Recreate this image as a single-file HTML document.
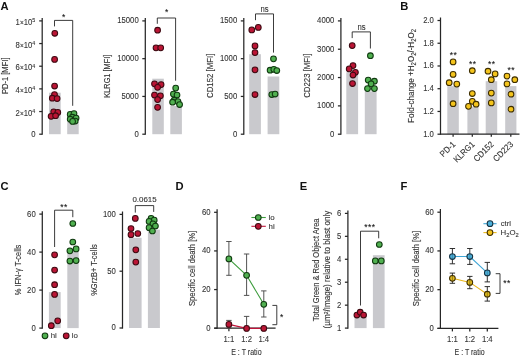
<!DOCTYPE html>
<html><head><meta charset="utf-8"><style>
html,body{margin:0;padding:0;background:#fff;}
svg{display:block;will-change:transform;}
text{font-family:"Liberation Sans", sans-serif;stroke:#333;stroke-width:0.1px;}
</style></head><body>
<svg width="520" height="358" viewBox="0 0 520 358">
<rect width="520" height="358" fill="#fff"/>
<text x="0.40" y="9.80" font-size="11.2" font-weight="bold" fill="#111" style="stroke:none">A</text>
<rect x="49.00" y="92.70" width="11.70" height="41.50" fill="#c9c9cd"/>
<rect x="67.20" y="122.00" width="11.50" height="12.20" fill="#c9c9cd"/>
<line x1="42.20" y1="17.90" x2="42.20" y2="134.82" stroke="#262626" stroke-width="1.25"/>
<line x1="39.20" y1="20.90" x2="42.20" y2="20.90" stroke="#262626" stroke-width="1.25"/>
<text transform="translate(35.30,24.90) scale(0.86,1)" font-size="9.0" text-anchor="end" fill="#333">1<tspan font-size="7.6">×</tspan>10<tspan font-size="6.2" dy="-2.5">5</tspan></text>
<line x1="39.20" y1="43.56" x2="42.20" y2="43.56" stroke="#262626" stroke-width="1.25"/>
<text transform="translate(35.30,47.56) scale(0.86,1)" font-size="9.0" text-anchor="end" fill="#333">8<tspan font-size="7.6">×</tspan>10<tspan font-size="6.2" dy="-2.5">4</tspan></text>
<line x1="39.20" y1="66.22" x2="42.20" y2="66.22" stroke="#262626" stroke-width="1.25"/>
<text transform="translate(35.30,70.22) scale(0.86,1)" font-size="9.0" text-anchor="end" fill="#333">6<tspan font-size="7.6">×</tspan>10<tspan font-size="6.2" dy="-2.5">4</tspan></text>
<line x1="39.20" y1="88.88" x2="42.20" y2="88.88" stroke="#262626" stroke-width="1.25"/>
<text transform="translate(35.30,92.88) scale(0.86,1)" font-size="9.0" text-anchor="end" fill="#333">4<tspan font-size="7.6">×</tspan>10<tspan font-size="6.2" dy="-2.5">4</tspan></text>
<line x1="39.20" y1="111.54" x2="42.20" y2="111.54" stroke="#262626" stroke-width="1.25"/>
<text transform="translate(35.30,115.54) scale(0.86,1)" font-size="9.0" text-anchor="end" fill="#333">2<tspan font-size="7.6">×</tspan>10<tspan font-size="6.2" dy="-2.5">4</tspan></text>
<line x1="39.20" y1="134.20" x2="42.20" y2="134.20" stroke="#262626" stroke-width="1.25"/>
<text transform="translate(35.60,136.65) scale(0.86,1)" font-size="9.0" text-anchor="end" fill="#333">0</text>
<text transform="translate(8.00,75.80) rotate(-90)" font-size="8.8" text-anchor="middle" fill="#333" style="stroke-width:0.12px" textLength="36.6" lengthAdjust="spacingAndGlyphs">PD-1 [MFI]</text>
<path d="M54.50,26.40 V20.40 H72.70 V105.80" fill="none" stroke="#262626" stroke-width="0.9"/>
<text x="63.80" y="20.40" font-size="8.4" text-anchor="middle" fill="#111" style="stroke:#111" letter-spacing="0.5">*</text>
<circle cx="54.80" cy="33.30" r="2.85" fill="#bb1535" stroke="#3e0a12" stroke-width="1.05"/>
<circle cx="54.60" cy="59.40" r="2.85" fill="#bb1535" stroke="#3e0a12" stroke-width="1.05"/>
<circle cx="54.60" cy="86.00" r="2.85" fill="#bb1535" stroke="#3e0a12" stroke-width="1.05"/>
<circle cx="54.50" cy="94.50" r="2.85" fill="#bb1535" stroke="#3e0a12" stroke-width="1.05"/>
<circle cx="52.30" cy="98.20" r="2.85" fill="#bb1535" stroke="#3e0a12" stroke-width="1.05"/>
<circle cx="57.10" cy="98.60" r="2.85" fill="#bb1535" stroke="#3e0a12" stroke-width="1.05"/>
<circle cx="53.70" cy="111.80" r="2.85" fill="#bb1535" stroke="#3e0a12" stroke-width="1.05"/>
<circle cx="57.80" cy="112.40" r="2.85" fill="#bb1535" stroke="#3e0a12" stroke-width="1.05"/>
<circle cx="51.10" cy="116.30" r="2.85" fill="#bb1535" stroke="#3e0a12" stroke-width="1.05"/>
<circle cx="55.60" cy="115.70" r="2.85" fill="#bb1535" stroke="#3e0a12" stroke-width="1.05"/>
<circle cx="70.20" cy="114.40" r="2.85" fill="#50b050" stroke="#103a10" stroke-width="1.05"/>
<circle cx="74.00" cy="113.60" r="2.85" fill="#50b050" stroke="#103a10" stroke-width="1.05"/>
<circle cx="72.40" cy="117.20" r="2.85" fill="#50b050" stroke="#103a10" stroke-width="1.05"/>
<circle cx="76.10" cy="118.00" r="2.85" fill="#50b050" stroke="#103a10" stroke-width="1.05"/>
<circle cx="70.20" cy="119.20" r="2.85" fill="#50b050" stroke="#103a10" stroke-width="1.05"/>
<circle cx="75.20" cy="121.00" r="2.85" fill="#50b050" stroke="#103a10" stroke-width="1.05"/>
<circle cx="72.60" cy="121.40" r="2.85" fill="#50b050" stroke="#103a10" stroke-width="1.05"/>
<rect x="152.30" y="78.70" width="11.50" height="55.50" fill="#c9c9cd"/>
<rect x="170.30" y="106.00" width="11.60" height="28.20" fill="#c9c9cd"/>
<line x1="145.30" y1="17.90" x2="145.30" y2="134.82" stroke="#262626" stroke-width="1.25"/>
<line x1="142.30" y1="20.90" x2="145.30" y2="20.90" stroke="#262626" stroke-width="1.25"/>
<text transform="translate(138.70,23.35) scale(0.86,1)" font-size="9.0" text-anchor="end" fill="#333">15000</text>
<line x1="142.30" y1="58.67" x2="145.30" y2="58.67" stroke="#262626" stroke-width="1.25"/>
<text transform="translate(138.70,61.12) scale(0.86,1)" font-size="9.0" text-anchor="end" fill="#333">10000</text>
<line x1="142.30" y1="96.43" x2="145.30" y2="96.43" stroke="#262626" stroke-width="1.25"/>
<text transform="translate(138.70,98.88) scale(0.86,1)" font-size="9.0" text-anchor="end" fill="#333">5000</text>
<line x1="142.30" y1="134.20" x2="145.30" y2="134.20" stroke="#262626" stroke-width="1.25"/>
<text transform="translate(138.70,136.65) scale(0.86,1)" font-size="9.0" text-anchor="end" fill="#333">0</text>
<text transform="translate(109.60,76.20) rotate(-90)" font-size="8.8" text-anchor="middle" fill="#333" style="stroke-width:0.12px" textLength="43.0" lengthAdjust="spacingAndGlyphs">KLRG1 [MFI]</text>
<path d="M157.30,23.80 V18.00 H175.60 V80.70" fill="none" stroke="#262626" stroke-width="0.9"/>
<text x="166.90" y="14.50" font-size="8.4" text-anchor="middle" fill="#111" style="stroke:#111" letter-spacing="0.5">*</text>
<circle cx="157.60" cy="30.20" r="2.85" fill="#bb1535" stroke="#3e0a12" stroke-width="1.05"/>
<circle cx="156.00" cy="47.80" r="2.85" fill="#bb1535" stroke="#3e0a12" stroke-width="1.05"/>
<circle cx="160.70" cy="47.80" r="2.85" fill="#bb1535" stroke="#3e0a12" stroke-width="1.05"/>
<circle cx="154.50" cy="83.80" r="2.85" fill="#bb1535" stroke="#3e0a12" stroke-width="1.05"/>
<circle cx="161.10" cy="84.60" r="2.85" fill="#bb1535" stroke="#3e0a12" stroke-width="1.05"/>
<circle cx="157.60" cy="87.30" r="2.85" fill="#bb1535" stroke="#3e0a12" stroke-width="1.05"/>
<circle cx="154.50" cy="95.00" r="2.85" fill="#bb1535" stroke="#3e0a12" stroke-width="1.05"/>
<circle cx="160.40" cy="95.80" r="2.85" fill="#bb1535" stroke="#3e0a12" stroke-width="1.05"/>
<circle cx="157.60" cy="99.60" r="2.85" fill="#bb1535" stroke="#3e0a12" stroke-width="1.05"/>
<circle cx="157.60" cy="107.30" r="2.85" fill="#bb1535" stroke="#3e0a12" stroke-width="1.05"/>
<circle cx="175.70" cy="88.10" r="2.85" fill="#50b050" stroke="#103a10" stroke-width="1.05"/>
<circle cx="173.40" cy="94.10" r="2.85" fill="#50b050" stroke="#103a10" stroke-width="1.05"/>
<circle cx="177.00" cy="95.00" r="2.85" fill="#50b050" stroke="#103a10" stroke-width="1.05"/>
<circle cx="174.20" cy="100.20" r="2.85" fill="#50b050" stroke="#103a10" stroke-width="1.05"/>
<circle cx="178.00" cy="101.50" r="2.85" fill="#50b050" stroke="#103a10" stroke-width="1.05"/>
<circle cx="172.60" cy="102.20" r="2.85" fill="#50b050" stroke="#103a10" stroke-width="1.05"/>
<circle cx="179.60" cy="104.50" r="2.85" fill="#50b050" stroke="#103a10" stroke-width="1.05"/>
<rect x="249.20" y="54.20" width="11.70" height="80.00" fill="#c9c9cd"/>
<rect x="267.60" y="76.50" width="11.70" height="57.70" fill="#c9c9cd"/>
<line x1="243.80" y1="17.90" x2="243.80" y2="134.82" stroke="#262626" stroke-width="1.25"/>
<line x1="240.80" y1="20.90" x2="243.80" y2="20.90" stroke="#262626" stroke-width="1.25"/>
<text transform="translate(237.20,23.35) scale(0.86,1)" font-size="9.0" text-anchor="end" fill="#333">1500</text>
<line x1="240.80" y1="58.67" x2="243.80" y2="58.67" stroke="#262626" stroke-width="1.25"/>
<text transform="translate(237.20,61.12) scale(0.86,1)" font-size="9.0" text-anchor="end" fill="#333">1000</text>
<line x1="240.80" y1="96.43" x2="243.80" y2="96.43" stroke="#262626" stroke-width="1.25"/>
<text transform="translate(237.20,98.88) scale(0.86,1)" font-size="9.0" text-anchor="end" fill="#333">500</text>
<line x1="240.80" y1="134.20" x2="243.80" y2="134.20" stroke="#262626" stroke-width="1.25"/>
<text transform="translate(237.20,136.65) scale(0.86,1)" font-size="9.0" text-anchor="end" fill="#333">0</text>
<text transform="translate(213.30,75.80) rotate(-90)" font-size="8.8" text-anchor="middle" fill="#333" style="stroke-width:0.12px" textLength="44.3" lengthAdjust="spacingAndGlyphs">CD152 [MFI]</text>
<path d="M255.50,20.20 V13.90 H273.50 V52.60" fill="none" stroke="#262626" stroke-width="0.9"/>
<text transform="translate(264.50,11.60) scale(0.86,1)" font-size="9.0" text-anchor="middle" fill="#333">ns</text>
<circle cx="251.80" cy="29.90" r="2.85" fill="#bb1535" stroke="#3e0a12" stroke-width="1.05"/>
<circle cx="258.30" cy="27.40" r="2.85" fill="#bb1535" stroke="#3e0a12" stroke-width="1.05"/>
<circle cx="255.00" cy="45.90" r="2.85" fill="#bb1535" stroke="#3e0a12" stroke-width="1.05"/>
<circle cx="255.00" cy="52.60" r="2.85" fill="#bb1535" stroke="#3e0a12" stroke-width="1.05"/>
<circle cx="255.00" cy="69.80" r="2.85" fill="#bb1535" stroke="#3e0a12" stroke-width="1.05"/>
<circle cx="255.00" cy="94.50" r="2.85" fill="#bb1535" stroke="#3e0a12" stroke-width="1.05"/>
<circle cx="273.50" cy="58.80" r="2.85" fill="#50b050" stroke="#103a10" stroke-width="1.05"/>
<circle cx="270.10" cy="70.20" r="2.85" fill="#50b050" stroke="#103a10" stroke-width="1.05"/>
<circle cx="273.80" cy="69.30" r="2.85" fill="#50b050" stroke="#103a10" stroke-width="1.05"/>
<circle cx="276.80" cy="70.50" r="2.85" fill="#50b050" stroke="#103a10" stroke-width="1.05"/>
<circle cx="271.80" cy="94.50" r="2.85" fill="#50b050" stroke="#103a10" stroke-width="1.05"/>
<circle cx="275.10" cy="94.00" r="2.85" fill="#50b050" stroke="#103a10" stroke-width="1.05"/>
<rect x="346.30" y="72.30" width="11.80" height="61.90" fill="#c9c9cd"/>
<rect x="364.80" y="91.30" width="11.80" height="42.90" fill="#c9c9cd"/>
<line x1="340.90" y1="17.90" x2="340.90" y2="134.82" stroke="#262626" stroke-width="1.25"/>
<line x1="337.90" y1="20.90" x2="340.90" y2="20.90" stroke="#262626" stroke-width="1.25"/>
<text transform="translate(334.30,23.35) scale(0.86,1)" font-size="9.0" text-anchor="end" fill="#333">4000</text>
<line x1="337.90" y1="49.22" x2="340.90" y2="49.22" stroke="#262626" stroke-width="1.25"/>
<text transform="translate(334.30,51.67) scale(0.86,1)" font-size="9.0" text-anchor="end" fill="#333">3000</text>
<line x1="337.90" y1="77.55" x2="340.90" y2="77.55" stroke="#262626" stroke-width="1.25"/>
<text transform="translate(334.30,80.00) scale(0.86,1)" font-size="9.0" text-anchor="end" fill="#333">2000</text>
<line x1="337.90" y1="105.88" x2="340.90" y2="105.88" stroke="#262626" stroke-width="1.25"/>
<text transform="translate(334.30,108.33) scale(0.86,1)" font-size="9.0" text-anchor="end" fill="#333">1000</text>
<line x1="337.90" y1="134.20" x2="340.90" y2="134.20" stroke="#262626" stroke-width="1.25"/>
<text transform="translate(334.30,136.65) scale(0.86,1)" font-size="9.0" text-anchor="end" fill="#333">0</text>
<text transform="translate(310.20,75.70) rotate(-90)" font-size="8.8" text-anchor="middle" fill="#333" style="stroke-width:0.12px" textLength="44.3" lengthAdjust="spacingAndGlyphs">CD223 [MFI]</text>
<path d="M352.20,38.10 V31.90 H370.40 V48.50" fill="none" stroke="#262626" stroke-width="0.9"/>
<text transform="translate(361.60,29.80) scale(0.86,1)" font-size="9.0" text-anchor="middle" fill="#333">ns</text>
<circle cx="352.20" cy="45.60" r="2.85" fill="#bb1535" stroke="#3e0a12" stroke-width="1.05"/>
<circle cx="353.00" cy="65.60" r="2.85" fill="#bb1535" stroke="#3e0a12" stroke-width="1.05"/>
<circle cx="349.20" cy="68.90" r="2.85" fill="#bb1535" stroke="#3e0a12" stroke-width="1.05"/>
<circle cx="355.40" cy="72.30" r="2.85" fill="#bb1535" stroke="#3e0a12" stroke-width="1.05"/>
<circle cx="353.00" cy="75.00" r="2.85" fill="#bb1535" stroke="#3e0a12" stroke-width="1.05"/>
<circle cx="352.50" cy="83.50" r="2.85" fill="#bb1535" stroke="#3e0a12" stroke-width="1.05"/>
<circle cx="370.40" cy="55.70" r="2.85" fill="#50b050" stroke="#103a10" stroke-width="1.05"/>
<circle cx="368.20" cy="80.10" r="2.85" fill="#50b050" stroke="#103a10" stroke-width="1.05"/>
<circle cx="374.40" cy="81.20" r="2.85" fill="#50b050" stroke="#103a10" stroke-width="1.05"/>
<circle cx="371.10" cy="83.90" r="2.85" fill="#50b050" stroke="#103a10" stroke-width="1.05"/>
<circle cx="367.50" cy="88.60" r="2.85" fill="#50b050" stroke="#103a10" stroke-width="1.05"/>
<circle cx="374.40" cy="88.60" r="2.85" fill="#50b050" stroke="#103a10" stroke-width="1.05"/>
<text x="400.20" y="9.80" font-size="11.2" font-weight="bold" fill="#111" style="stroke:none">B</text>
<rect x="447.30" y="86.10" width="11.50" height="48.10" fill="#c9c9cd"/>
<rect x="467.40" y="106.60" width="11.20" height="27.60" fill="#c9c9cd"/>
<rect x="485.70" y="81.20" width="11.50" height="53.00" fill="#c9c9cd"/>
<rect x="505.20" y="86.10" width="11.20" height="48.10" fill="#c9c9cd"/>
<line x1="440.50" y1="17.50" x2="440.50" y2="134.82" stroke="#262626" stroke-width="1.25"/>
<line x1="437.50" y1="20.50" x2="440.50" y2="20.50" stroke="#262626" stroke-width="1.25"/>
<text transform="translate(433.90,22.95) scale(0.86,1)" font-size="9.0" text-anchor="end" fill="#333">2.0</text>
<line x1="437.50" y1="43.24" x2="440.50" y2="43.24" stroke="#262626" stroke-width="1.25"/>
<text transform="translate(433.90,45.69) scale(0.86,1)" font-size="9.0" text-anchor="end" fill="#333">1.8</text>
<line x1="437.50" y1="65.98" x2="440.50" y2="65.98" stroke="#262626" stroke-width="1.25"/>
<text transform="translate(433.90,68.43) scale(0.86,1)" font-size="9.0" text-anchor="end" fill="#333">1.6</text>
<line x1="437.50" y1="88.72" x2="440.50" y2="88.72" stroke="#262626" stroke-width="1.25"/>
<text transform="translate(433.90,91.17) scale(0.86,1)" font-size="9.0" text-anchor="end" fill="#333">1.4</text>
<line x1="437.50" y1="111.46" x2="440.50" y2="111.46" stroke="#262626" stroke-width="1.25"/>
<text transform="translate(433.90,113.91) scale(0.86,1)" font-size="9.0" text-anchor="end" fill="#333">1.2</text>
<line x1="437.50" y1="134.20" x2="440.50" y2="134.20" stroke="#262626" stroke-width="1.25"/>
<text transform="translate(433.90,136.65) scale(0.86,1)" font-size="9.0" text-anchor="end" fill="#333">1.0</text>
<line x1="440.50" y1="134.20" x2="519.50" y2="134.20" stroke="#262626" stroke-width="1.25"/>
<line x1="453.10" y1="134.20" x2="453.10" y2="136.80" stroke="#262626" stroke-width="1.25"/>
<line x1="472.30" y1="134.20" x2="472.30" y2="136.80" stroke="#262626" stroke-width="1.25"/>
<line x1="491.30" y1="134.20" x2="491.30" y2="136.80" stroke="#262626" stroke-width="1.25"/>
<line x1="510.80" y1="134.20" x2="510.80" y2="136.80" stroke="#262626" stroke-width="1.25"/>
<text transform="translate(414.3,76.0) rotate(-90)" font-size="8.8" text-anchor="middle" fill="#333" style="stroke-width:0.12px" textLength="94" lengthAdjust="spacingAndGlyphs">Fold-change +H<tspan font-size="6.4" dy="2.0">2</tspan><tspan dy="-2.0">O</tspan><tspan font-size="6.4" dy="2.0">2</tspan><tspan dy="-2.0">/-H</tspan><tspan font-size="6.4" dy="2.0">2</tspan><tspan dy="-2.0">O</tspan><tspan font-size="6.4" dy="2.0">2</tspan></text>
<text transform="translate(456.10,144.80) rotate(-45) scale(0.92,1)" font-size="8.6" text-anchor="end" fill="#333">PD-1</text>
<text transform="translate(475.30,144.80) rotate(-45) scale(0.92,1)" font-size="8.6" text-anchor="end" fill="#333">KLRG1</text>
<text transform="translate(494.30,144.80) rotate(-45) scale(0.92,1)" font-size="8.6" text-anchor="end" fill="#333">CD152</text>
<text transform="translate(513.80,144.80) rotate(-45) scale(0.92,1)" font-size="8.6" text-anchor="end" fill="#333">CD223</text>
<text x="453.40" y="58.10" font-size="8.4" text-anchor="middle" fill="#111" style="stroke:#111" letter-spacing="0.5">**</text>
<text x="472.80" y="66.50" font-size="8.4" text-anchor="middle" fill="#111" style="stroke:#111" letter-spacing="0.5">**</text>
<text x="491.80" y="66.50" font-size="8.4" text-anchor="middle" fill="#111" style="stroke:#111" letter-spacing="0.5">**</text>
<text x="511.20" y="73.00" font-size="8.4" text-anchor="middle" fill="#111" style="stroke:#111" letter-spacing="0.5">**</text>
<circle cx="453.10" cy="61.90" r="2.85" fill="#f4c41c" stroke="#3e2e00" stroke-width="1.05"/>
<circle cx="453.10" cy="74.40" r="2.85" fill="#f4c41c" stroke="#3e2e00" stroke-width="1.05"/>
<circle cx="449.20" cy="82.70" r="2.85" fill="#f4c41c" stroke="#3e2e00" stroke-width="1.05"/>
<circle cx="456.80" cy="84.10" r="2.85" fill="#f4c41c" stroke="#3e2e00" stroke-width="1.05"/>
<circle cx="453.10" cy="103.70" r="2.85" fill="#f4c41c" stroke="#3e2e00" stroke-width="1.05"/>
<circle cx="472.30" cy="70.70" r="2.85" fill="#f4c41c" stroke="#3e2e00" stroke-width="1.05"/>
<circle cx="472.30" cy="93.50" r="2.85" fill="#f4c41c" stroke="#3e2e00" stroke-width="1.05"/>
<circle cx="472.30" cy="101.30" r="2.85" fill="#f4c41c" stroke="#3e2e00" stroke-width="1.05"/>
<circle cx="468.50" cy="106.30" r="2.85" fill="#f4c41c" stroke="#3e2e00" stroke-width="1.05"/>
<circle cx="476.10" cy="104.20" r="2.85" fill="#f4c41c" stroke="#3e2e00" stroke-width="1.05"/>
<circle cx="488.00" cy="71.20" r="2.85" fill="#f4c41c" stroke="#3e2e00" stroke-width="1.05"/>
<circle cx="495.10" cy="73.90" r="2.85" fill="#f4c41c" stroke="#3e2e00" stroke-width="1.05"/>
<circle cx="491.30" cy="79.70" r="2.85" fill="#f4c41c" stroke="#3e2e00" stroke-width="1.05"/>
<circle cx="491.30" cy="93.10" r="2.85" fill="#f4c41c" stroke="#3e2e00" stroke-width="1.05"/>
<circle cx="491.30" cy="102.90" r="2.85" fill="#f4c41c" stroke="#3e2e00" stroke-width="1.05"/>
<circle cx="507.00" cy="76.10" r="2.85" fill="#f4c41c" stroke="#3e2e00" stroke-width="1.05"/>
<circle cx="514.80" cy="79.70" r="2.85" fill="#f4c41c" stroke="#3e2e00" stroke-width="1.05"/>
<circle cx="507.00" cy="83.90" r="2.85" fill="#f4c41c" stroke="#3e2e00" stroke-width="1.05"/>
<circle cx="511.00" cy="94.20" r="2.85" fill="#f4c41c" stroke="#3e2e00" stroke-width="1.05"/>
<circle cx="511.00" cy="109.20" r="2.85" fill="#f4c41c" stroke="#3e2e00" stroke-width="1.05"/>
<text x="0.60" y="189.70" font-size="11.2" font-weight="bold" fill="#111" style="stroke:none">C</text>
<rect x="48.90" y="292.10" width="11.80" height="36.00" fill="#c9c9cd"/>
<rect x="67.30" y="251.20" width="11.40" height="76.90" fill="#c9c9cd"/>
<line x1="42.30" y1="211.20" x2="42.30" y2="328.73" stroke="#262626" stroke-width="1.25"/>
<line x1="39.30" y1="214.10" x2="42.30" y2="214.10" stroke="#262626" stroke-width="1.25"/>
<text transform="translate(35.70,216.55) scale(0.86,1)" font-size="9.0" text-anchor="end" fill="#333">60</text>
<line x1="39.30" y1="252.10" x2="42.30" y2="252.10" stroke="#262626" stroke-width="1.25"/>
<text transform="translate(35.70,254.55) scale(0.86,1)" font-size="9.0" text-anchor="end" fill="#333">40</text>
<line x1="39.30" y1="290.10" x2="42.30" y2="290.10" stroke="#262626" stroke-width="1.25"/>
<text transform="translate(35.70,292.55) scale(0.86,1)" font-size="9.0" text-anchor="end" fill="#333">20</text>
<line x1="39.30" y1="328.10" x2="42.30" y2="328.10" stroke="#262626" stroke-width="1.25"/>
<text transform="translate(35.70,330.55) scale(0.86,1)" font-size="9.0" text-anchor="end" fill="#333">0</text>
<text transform="translate(21.00,270.00) rotate(-90)" font-size="8.8" text-anchor="middle" fill="#333" style="stroke-width:0.12px" textLength="50.6" lengthAdjust="spacingAndGlyphs">% IFN-γ T-cells</text>
<path d="M54.60,247.00 V210.20 H72.80 V217.20" fill="none" stroke="#262626" stroke-width="0.9"/>
<text x="64.00" y="209.80" font-size="8.4" text-anchor="middle" fill="#111" style="stroke:#111" letter-spacing="0.5">**</text>
<circle cx="54.60" cy="254.80" r="2.85" fill="#bb1535" stroke="#3e0a12" stroke-width="1.05"/>
<circle cx="54.60" cy="270.00" r="2.85" fill="#bb1535" stroke="#3e0a12" stroke-width="1.05"/>
<circle cx="54.60" cy="284.70" r="2.85" fill="#bb1535" stroke="#3e0a12" stroke-width="1.05"/>
<circle cx="54.60" cy="294.40" r="2.85" fill="#bb1535" stroke="#3e0a12" stroke-width="1.05"/>
<circle cx="57.70" cy="320.80" r="2.85" fill="#bb1535" stroke="#3e0a12" stroke-width="1.05"/>
<circle cx="51.30" cy="325.70" r="2.85" fill="#bb1535" stroke="#3e0a12" stroke-width="1.05"/>
<circle cx="72.80" cy="223.50" r="2.85" fill="#50b050" stroke="#103a10" stroke-width="1.05"/>
<circle cx="72.80" cy="242.00" r="2.85" fill="#50b050" stroke="#103a10" stroke-width="1.05"/>
<circle cx="69.90" cy="250.80" r="2.85" fill="#50b050" stroke="#103a10" stroke-width="1.05"/>
<circle cx="76.10" cy="248.90" r="2.85" fill="#50b050" stroke="#103a10" stroke-width="1.05"/>
<circle cx="69.90" cy="261.00" r="2.85" fill="#50b050" stroke="#103a10" stroke-width="1.05"/>
<circle cx="76.10" cy="260.60" r="2.85" fill="#50b050" stroke="#103a10" stroke-width="1.05"/>
<circle cx="45.00" cy="335.80" r="2.85" fill="#50b050" stroke="#103a10" stroke-width="1.05"/>
<text transform="translate(50.70,338.20) scale(1.0,1)" font-size="7.9" text-anchor="start" fill="#3a3a3a">hi</text>
<circle cx="66.20" cy="335.80" r="2.85" fill="#bb1535" stroke="#3e0a12" stroke-width="1.05"/>
<text transform="translate(71.70,338.20) scale(1.0,1)" font-size="7.9" text-anchor="start" fill="#3a3a3a">lo</text>
<rect x="129.00" y="237.80" width="12.60" height="90.20" fill="#c9c9cd"/>
<rect x="147.90" y="229.70" width="12.00" height="98.30" fill="#c9c9cd"/>
<line x1="122.50" y1="211.50" x2="122.50" y2="328.62" stroke="#262626" stroke-width="1.25"/>
<line x1="119.50" y1="214.40" x2="122.50" y2="214.40" stroke="#262626" stroke-width="1.25"/>
<text transform="translate(115.90,216.85) scale(0.86,1)" font-size="9.0" text-anchor="end" fill="#333">100</text>
<line x1="119.50" y1="271.20" x2="122.50" y2="271.20" stroke="#262626" stroke-width="1.25"/>
<text transform="translate(115.90,273.65) scale(0.86,1)" font-size="9.0" text-anchor="end" fill="#333">50</text>
<line x1="119.50" y1="328.00" x2="122.50" y2="328.00" stroke="#262626" stroke-width="1.25"/>
<text transform="translate(115.90,330.45) scale(0.86,1)" font-size="9.0" text-anchor="end" fill="#333">0</text>
<text transform="translate(96.70,270.00) rotate(-90)" font-size="8.8" text-anchor="middle" fill="#333" style="stroke-width:0.12px" textLength="51.6" lengthAdjust="spacingAndGlyphs">%GrzB+ T-cells</text>
<path d="M135.30,212.60 V205.60 H153.70 V211.90" fill="none" stroke="#262626" stroke-width="0.9"/>
<text x="144.5" y="201.7" font-size="6.8" text-anchor="middle" fill="#333" textLength="24.2" lengthAdjust="spacingAndGlyphs">0.0615</text>
<circle cx="135.30" cy="218.40" r="2.85" fill="#bb1535" stroke="#3e0a12" stroke-width="1.05"/>
<circle cx="131.00" cy="228.50" r="2.85" fill="#bb1535" stroke="#3e0a12" stroke-width="1.05"/>
<circle cx="131.00" cy="234.70" r="2.85" fill="#bb1535" stroke="#3e0a12" stroke-width="1.05"/>
<circle cx="137.80" cy="233.50" r="2.85" fill="#bb1535" stroke="#3e0a12" stroke-width="1.05"/>
<circle cx="135.80" cy="249.80" r="2.85" fill="#bb1535" stroke="#3e0a12" stroke-width="1.05"/>
<circle cx="135.80" cy="262.10" r="2.85" fill="#bb1535" stroke="#3e0a12" stroke-width="1.05"/>
<circle cx="151.10" cy="218.40" r="2.85" fill="#50b050" stroke="#103a10" stroke-width="1.05"/>
<circle cx="154.20" cy="220.20" r="2.85" fill="#50b050" stroke="#103a10" stroke-width="1.05"/>
<circle cx="149.10" cy="221.40" r="2.85" fill="#50b050" stroke="#103a10" stroke-width="1.05"/>
<circle cx="152.90" cy="223.90" r="2.85" fill="#50b050" stroke="#103a10" stroke-width="1.05"/>
<circle cx="155.40" cy="226.00" r="2.85" fill="#50b050" stroke="#103a10" stroke-width="1.05"/>
<circle cx="149.10" cy="227.70" r="2.85" fill="#50b050" stroke="#103a10" stroke-width="1.05"/>
<circle cx="152.40" cy="231.00" r="2.85" fill="#50b050" stroke="#103a10" stroke-width="1.05"/>
<text x="175.60" y="189.70" font-size="11.2" font-weight="bold" fill="#111" style="stroke:none">D</text>
<line x1="217.10" y1="209.30" x2="217.10" y2="328.82" stroke="#262626" stroke-width="1.25"/>
<line x1="214.10" y1="212.30" x2="217.10" y2="212.30" stroke="#262626" stroke-width="1.25"/>
<text transform="translate(210.50,214.75) scale(0.86,1)" font-size="9.0" text-anchor="end" fill="#333">60</text>
<line x1="214.10" y1="250.93" x2="217.10" y2="250.93" stroke="#262626" stroke-width="1.25"/>
<text transform="translate(210.50,253.38) scale(0.86,1)" font-size="9.0" text-anchor="end" fill="#333">40</text>
<line x1="214.10" y1="289.57" x2="217.10" y2="289.57" stroke="#262626" stroke-width="1.25"/>
<text transform="translate(210.50,292.02) scale(0.86,1)" font-size="9.0" text-anchor="end" fill="#333">20</text>
<line x1="214.10" y1="328.20" x2="217.10" y2="328.20" stroke="#262626" stroke-width="1.25"/>
<text transform="translate(210.50,330.65) scale(0.86,1)" font-size="9.0" text-anchor="end" fill="#333">0</text>
<line x1="214.30" y1="328.20" x2="275.60" y2="328.20" stroke="#262626" stroke-width="1.25"/>
<line x1="228.90" y1="328.20" x2="228.90" y2="331.20" stroke="#262626" stroke-width="1.25"/>
<line x1="246.60" y1="328.20" x2="246.60" y2="331.20" stroke="#262626" stroke-width="1.25"/>
<line x1="263.80" y1="328.20" x2="263.80" y2="331.20" stroke="#262626" stroke-width="1.25"/>
<text transform="translate(195.40,268.40) rotate(-90)" font-size="8.8" text-anchor="middle" fill="#333" style="stroke-width:0.12px" textLength="75.3" lengthAdjust="spacingAndGlyphs">Specific cell death [%]</text>
<line x1="228.90" y1="241.50" x2="228.90" y2="275.30" stroke="#4a4a4a" stroke-width="0.95"/>
<line x1="226.20" y1="241.50" x2="231.60" y2="241.50" stroke="#4a4a4a" stroke-width="0.95"/>
<line x1="226.20" y1="275.30" x2="231.60" y2="275.30" stroke="#4a4a4a" stroke-width="0.95"/>
<line x1="246.60" y1="254.00" x2="246.60" y2="295.40" stroke="#4a4a4a" stroke-width="0.95"/>
<line x1="243.90" y1="254.00" x2="249.30" y2="254.00" stroke="#4a4a4a" stroke-width="0.95"/>
<line x1="243.90" y1="295.40" x2="249.30" y2="295.40" stroke="#4a4a4a" stroke-width="0.95"/>
<line x1="263.80" y1="290.90" x2="263.80" y2="317.00" stroke="#4a4a4a" stroke-width="0.95"/>
<line x1="261.10" y1="290.90" x2="266.50" y2="290.90" stroke="#4a4a4a" stroke-width="0.95"/>
<line x1="261.10" y1="317.00" x2="266.50" y2="317.00" stroke="#4a4a4a" stroke-width="0.95"/>
<line x1="228.90" y1="320.40" x2="228.90" y2="328.20" stroke="#4a4a4a" stroke-width="0.95"/>
<line x1="226.20" y1="320.40" x2="231.60" y2="320.40" stroke="#4a4a4a" stroke-width="0.95"/>
<line x1="226.20" y1="328.20" x2="231.60" y2="328.20" stroke="#4a4a4a" stroke-width="0.95"/>
<line x1="246.60" y1="316.40" x2="246.60" y2="328.20" stroke="#4a4a4a" stroke-width="0.95"/>
<line x1="243.90" y1="316.40" x2="249.30" y2="316.40" stroke="#4a4a4a" stroke-width="0.95"/>
<line x1="243.90" y1="328.20" x2="249.30" y2="328.20" stroke="#4a4a4a" stroke-width="0.95"/>
<path d="M228.90,258.90 L246.60,275.30 L263.80,304.30" fill="none" stroke="#3d9c3d" stroke-width="1.1"/>
<path d="M228.90,324.40 L246.60,328.40 L263.80,328.40" fill="none" stroke="#c0143a" stroke-width="1.1"/>
<circle cx="228.90" cy="258.90" r="2.85" fill="#50b050" stroke="#103a10" stroke-width="1.05"/>
<circle cx="246.60" cy="275.30" r="2.85" fill="#50b050" stroke="#103a10" stroke-width="1.05"/>
<circle cx="263.80" cy="304.30" r="2.85" fill="#50b050" stroke="#103a10" stroke-width="1.05"/>
<circle cx="228.90" cy="324.40" r="2.85" fill="#bb1535" stroke="#3e0a12" stroke-width="1.05"/>
<circle cx="246.60" cy="328.40" r="2.85" fill="#bb1535" stroke="#3e0a12" stroke-width="1.05"/>
<circle cx="263.80" cy="328.40" r="2.85" fill="#bb1535" stroke="#3e0a12" stroke-width="1.05"/>
<path d="M272.4,305.4 H276.8 V324.7 H272.4" fill="none" stroke="#262626" stroke-width="0.9"/>
<text x="281.80" y="320.10" font-size="8.4" text-anchor="middle" fill="#111" style="stroke:#111" letter-spacing="0.5">*</text>
<text transform="translate(228.90,341.80) scale(0.86,1)" font-size="9.0" text-anchor="middle" fill="#333">1:1</text>
<text transform="translate(246.60,341.80) scale(0.86,1)" font-size="9.0" text-anchor="middle" fill="#333">1:2</text>
<text transform="translate(263.80,341.80) scale(0.86,1)" font-size="9.0" text-anchor="middle" fill="#333">1:4</text>
<text x="246.4" y="355.2" font-size="9.2" text-anchor="middle" fill="#333" textLength="30.4" lengthAdjust="spacingAndGlyphs">E : T ratio</text>
<line x1="251.40" y1="217.50" x2="265.80" y2="217.50" stroke="#3d9c3d" stroke-width="1.1"/>
<circle cx="258.30" cy="217.50" r="2.85" fill="#50b050" stroke="#103a10" stroke-width="1.05"/>
<text transform="translate(268.60,219.80) scale(1.0,1)" font-size="7.9" text-anchor="start" fill="#333">lo</text>
<line x1="251.40" y1="226.30" x2="265.80" y2="226.30" stroke="#c0143a" stroke-width="1.1"/>
<circle cx="258.30" cy="226.30" r="2.85" fill="#bb1535" stroke="#3e0a12" stroke-width="1.05"/>
<text transform="translate(268.60,228.50) scale(1.0,1)" font-size="7.9" text-anchor="start" fill="#333">hi</text>
<text x="299.80" y="189.70" font-size="11.2" font-weight="bold" fill="#111" style="stroke:none">E</text>
<rect x="354.50" y="316.00" width="12.10" height="12.10" fill="#c9c9cd"/>
<rect x="372.90" y="255.20" width="11.70" height="72.90" fill="#c9c9cd"/>
<line x1="347.90" y1="210.60" x2="347.90" y2="328.73" stroke="#262626" stroke-width="1.25"/>
<line x1="344.90" y1="213.40" x2="347.90" y2="213.40" stroke="#262626" stroke-width="1.25"/>
<text transform="translate(341.30,215.85) scale(0.86,1)" font-size="9.0" text-anchor="end" fill="#333">6</text>
<line x1="344.90" y1="236.34" x2="347.90" y2="236.34" stroke="#262626" stroke-width="1.25"/>
<text transform="translate(341.30,238.79) scale(0.86,1)" font-size="9.0" text-anchor="end" fill="#333">5</text>
<line x1="344.90" y1="259.28" x2="347.90" y2="259.28" stroke="#262626" stroke-width="1.25"/>
<text transform="translate(341.30,261.73) scale(0.86,1)" font-size="9.0" text-anchor="end" fill="#333">4</text>
<line x1="344.90" y1="282.22" x2="347.90" y2="282.22" stroke="#262626" stroke-width="1.25"/>
<text transform="translate(341.30,284.67) scale(0.86,1)" font-size="9.0" text-anchor="end" fill="#333">3</text>
<line x1="344.90" y1="305.16" x2="347.90" y2="305.16" stroke="#262626" stroke-width="1.25"/>
<text transform="translate(341.30,307.61) scale(0.86,1)" font-size="9.0" text-anchor="end" fill="#333">2</text>
<line x1="344.90" y1="328.10" x2="347.90" y2="328.10" stroke="#262626" stroke-width="1.25"/>
<text transform="translate(341.30,330.55) scale(0.86,1)" font-size="9.0" text-anchor="end" fill="#333">1</text>
<text transform="translate(318.80,269.90) rotate(-90)" font-size="8.8" text-anchor="middle" fill="#333" style="stroke-width:0.12px" textLength="102.7" lengthAdjust="spacingAndGlyphs">Total Green &amp; Red Object Area</text>
<text transform="translate(330.4,269.6) rotate(-90)" font-size="8.8" text-anchor="middle" fill="#333" style="stroke-width:0.12px" textLength="117.6" lengthAdjust="spacingAndGlyphs">(µm<tspan font-size="5.6" dy="-2.6">2</tspan><tspan dy="2.6">/Image) relative to blast only</tspan></text>
<path d="M360.50,305.50 V231.20 H378.70 V238.30" fill="none" stroke="#262626" stroke-width="0.9"/>
<text x="369.90" y="230.40" font-size="8.4" text-anchor="middle" fill="#111" style="stroke:#111" letter-spacing="0.5">***</text>
<circle cx="356.90" cy="315.00" r="2.85" fill="#bb1535" stroke="#3e0a12" stroke-width="1.05"/>
<circle cx="360.20" cy="312.20" r="2.85" fill="#bb1535" stroke="#3e0a12" stroke-width="1.05"/>
<circle cx="363.60" cy="315.00" r="2.85" fill="#bb1535" stroke="#3e0a12" stroke-width="1.05"/>
<circle cx="379.30" cy="244.50" r="2.85" fill="#50b050" stroke="#103a10" stroke-width="1.05"/>
<circle cx="375.30" cy="260.90" r="2.85" fill="#50b050" stroke="#103a10" stroke-width="1.05"/>
<circle cx="381.30" cy="260.90" r="2.85" fill="#50b050" stroke="#103a10" stroke-width="1.05"/>
<text x="400.40" y="189.70" font-size="11.2" font-weight="bold" fill="#111" style="stroke:none">F</text>
<line x1="440.40" y1="209.00" x2="440.40" y2="329.02" stroke="#262626" stroke-width="1.25"/>
<line x1="437.40" y1="212.20" x2="440.40" y2="212.20" stroke="#262626" stroke-width="1.25"/>
<text transform="translate(433.80,214.65) scale(0.86,1)" font-size="9.0" text-anchor="end" fill="#333">60</text>
<line x1="437.40" y1="250.93" x2="440.40" y2="250.93" stroke="#262626" stroke-width="1.25"/>
<text transform="translate(433.80,253.38) scale(0.86,1)" font-size="9.0" text-anchor="end" fill="#333">40</text>
<line x1="437.40" y1="289.67" x2="440.40" y2="289.67" stroke="#262626" stroke-width="1.25"/>
<text transform="translate(433.80,292.12) scale(0.86,1)" font-size="9.0" text-anchor="end" fill="#333">20</text>
<line x1="437.40" y1="328.40" x2="440.40" y2="328.40" stroke="#262626" stroke-width="1.25"/>
<text transform="translate(433.80,330.85) scale(0.86,1)" font-size="9.0" text-anchor="end" fill="#333">0</text>
<line x1="437.50" y1="328.40" x2="498.40" y2="328.40" stroke="#262626" stroke-width="1.25"/>
<line x1="452.40" y1="328.40" x2="452.40" y2="331.40" stroke="#262626" stroke-width="1.25"/>
<line x1="469.80" y1="328.40" x2="469.80" y2="331.40" stroke="#262626" stroke-width="1.25"/>
<line x1="487.30" y1="328.40" x2="487.30" y2="331.40" stroke="#262626" stroke-width="1.25"/>
<text transform="translate(419.30,268.50) rotate(-90)" font-size="8.8" text-anchor="middle" fill="#333" style="stroke-width:0.12px" textLength="75.5" lengthAdjust="spacingAndGlyphs">Specific cell death [%]</text>
<line x1="452.40" y1="248.50" x2="452.40" y2="263.80" stroke="#262626" stroke-width="0.95"/>
<line x1="449.70" y1="248.50" x2="455.10" y2="248.50" stroke="#262626" stroke-width="0.95"/>
<line x1="449.70" y1="263.80" x2="455.10" y2="263.80" stroke="#262626" stroke-width="0.95"/>
<line x1="469.80" y1="248.50" x2="469.80" y2="264.40" stroke="#262626" stroke-width="0.95"/>
<line x1="467.10" y1="248.50" x2="472.50" y2="248.50" stroke="#262626" stroke-width="0.95"/>
<line x1="467.10" y1="264.40" x2="472.50" y2="264.40" stroke="#262626" stroke-width="0.95"/>
<line x1="487.30" y1="262.40" x2="487.30" y2="281.90" stroke="#262626" stroke-width="0.95"/>
<line x1="484.60" y1="262.40" x2="490.00" y2="262.40" stroke="#262626" stroke-width="0.95"/>
<line x1="484.60" y1="281.90" x2="490.00" y2="281.90" stroke="#262626" stroke-width="0.95"/>
<line x1="452.40" y1="273.10" x2="452.40" y2="283.30" stroke="#262626" stroke-width="0.95"/>
<line x1="449.70" y1="273.10" x2="455.10" y2="273.10" stroke="#262626" stroke-width="0.95"/>
<line x1="449.70" y1="283.30" x2="455.10" y2="283.30" stroke="#262626" stroke-width="0.95"/>
<line x1="469.80" y1="276.40" x2="469.80" y2="288.70" stroke="#262626" stroke-width="0.95"/>
<line x1="467.10" y1="276.40" x2="472.50" y2="276.40" stroke="#262626" stroke-width="0.95"/>
<line x1="467.10" y1="288.70" x2="472.50" y2="288.70" stroke="#262626" stroke-width="0.95"/>
<line x1="487.30" y1="286.60" x2="487.30" y2="301.10" stroke="#262626" stroke-width="0.95"/>
<line x1="484.60" y1="286.60" x2="490.00" y2="286.60" stroke="#262626" stroke-width="0.95"/>
<line x1="484.60" y1="301.10" x2="490.00" y2="301.10" stroke="#262626" stroke-width="0.95"/>
<path d="M452.40,256.50 L469.80,256.50 L487.30,272.90" fill="none" stroke="#3fa6d6" stroke-width="1.1"/>
<path d="M452.40,278.30 L469.80,282.40 L487.30,294.20" fill="none" stroke="#e9b820" stroke-width="1.1"/>
<circle cx="452.40" cy="256.50" r="2.85" fill="#4cb0da" stroke="#163344" stroke-width="1.05"/>
<line x1="452.40" y1="254.10" x2="452.40" y2="258.90" stroke="rgba(30,30,30,0.35)" stroke-width="0.7"/>
<circle cx="469.80" cy="256.50" r="2.85" fill="#4cb0da" stroke="#163344" stroke-width="1.05"/>
<line x1="469.80" y1="254.10" x2="469.80" y2="258.90" stroke="rgba(30,30,30,0.35)" stroke-width="0.7"/>
<circle cx="487.30" cy="272.90" r="2.85" fill="#4cb0da" stroke="#163344" stroke-width="1.05"/>
<line x1="487.30" y1="270.50" x2="487.30" y2="275.30" stroke="rgba(30,30,30,0.35)" stroke-width="0.7"/>
<circle cx="452.40" cy="278.30" r="2.85" fill="#e2bc1c" stroke="#3e2e00" stroke-width="1.05"/>
<line x1="452.40" y1="275.90" x2="452.40" y2="280.70" stroke="rgba(30,30,30,0.55)" stroke-width="0.7"/>
<circle cx="469.80" cy="282.40" r="2.85" fill="#e2bc1c" stroke="#3e2e00" stroke-width="1.05"/>
<line x1="469.80" y1="280.00" x2="469.80" y2="284.80" stroke="rgba(30,30,30,0.55)" stroke-width="0.7"/>
<circle cx="487.30" cy="294.20" r="2.85" fill="#e2bc1c" stroke="#3e2e00" stroke-width="1.05"/>
<line x1="487.30" y1="291.80" x2="487.30" y2="296.60" stroke="rgba(30,30,30,0.55)" stroke-width="0.7"/>
<path d="M495.7,273.7 H500.0 V293.4 H495.7" fill="none" stroke="#262626" stroke-width="0.9"/>
<text x="506.90" y="286.00" font-size="8.4" text-anchor="middle" fill="#111" style="stroke:#111" letter-spacing="0.5">**</text>
<text transform="translate(452.40,341.80) scale(0.86,1)" font-size="9.0" text-anchor="middle" fill="#333">1:1</text>
<text transform="translate(469.80,341.80) scale(0.86,1)" font-size="9.0" text-anchor="middle" fill="#333">1:2</text>
<text transform="translate(487.30,341.80) scale(0.86,1)" font-size="9.0" text-anchor="middle" fill="#333">1:4</text>
<text x="469.6" y="355.2" font-size="9.2" text-anchor="middle" fill="#333" textLength="30.0" lengthAdjust="spacingAndGlyphs">E : T ratio</text>
<line x1="483.40" y1="223.70" x2="496.60" y2="223.70" stroke="#3fa6d6" stroke-width="1.1"/>
<circle cx="490.00" cy="223.70" r="2.85" fill="#4cb0da" stroke="#163344" stroke-width="1.05"/>
<text x="500.7" y="226.0" font-size="7.2" fill="#333" textLength="10.2" lengthAdjust="spacingAndGlyphs">ctrl</text>
<line x1="483.40" y1="232.60" x2="496.60" y2="232.60" stroke="#e9b820" stroke-width="1.1"/>
<circle cx="490.00" cy="232.60" r="2.85" fill="#f4c41c" stroke="#3e2e00" stroke-width="1.05"/>
<text x="500.6" y="234.6" font-size="7.6" fill="#333" textLength="18.2" lengthAdjust="spacingAndGlyphs">H<tspan font-size="5.6" dy="1.9">2</tspan><tspan dy="-1.9">O</tspan><tspan font-size="5.6" dy="1.9">2</tspan></text>
</svg>
</body></html>
